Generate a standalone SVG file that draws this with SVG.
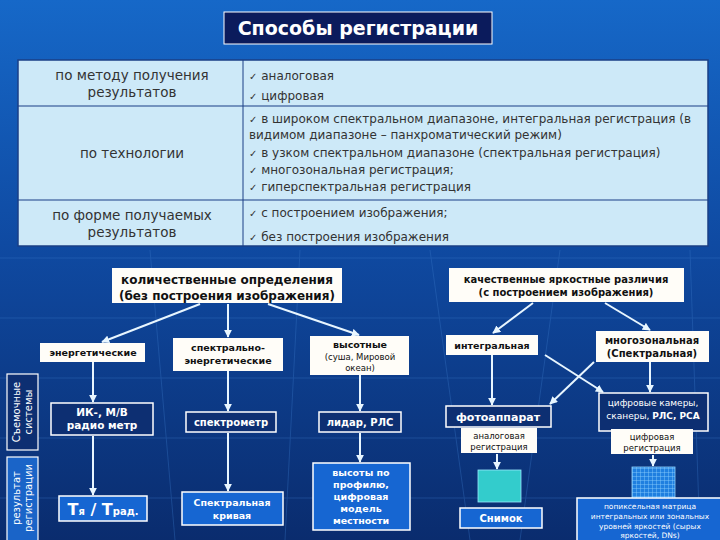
<svg xmlns="http://www.w3.org/2000/svg" width="720" height="540" viewBox="0 0 720 540">
<defs>
<linearGradient id="bg" x1="0" y1="0" x2="0" y2="1">
<stop offset="0" stop-color="#1668c8"/>
<stop offset="0.45" stop-color="#0f4aa2"/>
<stop offset="1" stop-color="#0a2c6e"/>
</linearGradient>
<pattern id="grid" width="4" height="4" patternUnits="userSpaceOnUse">
<rect width="4" height="4" fill="#1f7fe0"/>
<path d="M0 0H4M0 0V4" stroke="#8fd3ff" stroke-width="0.8" fill="none"/>
</pattern>
<marker id="ah" viewBox="0 0 10 10" refX="9" refY="5" markerWidth="4" markerHeight="4" orient="auto">
<path d="M0 0L10 5L0 10z" fill="#e8f6ff"/>
</marker>
<style>
text{font-family:"DejaVu Sans","Liberation Sans",sans-serif}
.tbl{font-size:12px;fill:#333}
.lc{font-size:13.5px}
.ck{font-size:10px;fill:#333}
.wb{fill:#fffdf8}
.dk{fill:#0d2f72;stroke:#ffffff;stroke-width:1.5}
.bl{fill:#1666d2;stroke:#ffffff;stroke-width:1.5}
.bt{font-weight:bold;fill:#111;text-anchor:middle}
.wt{font-weight:bold;fill:#fff;text-anchor:middle}
.c{text-anchor:middle}
.con line,.con path{stroke:#e8f6ff;stroke-width:2;fill:none}
.faint{stroke:#3a78c8;stroke-width:1;opacity:0.35;fill:none}
</style>
</defs>
<rect width="720" height="540" fill="url(#bg)"/>
<g class="faint">
<path d="M0 258H720M0 318H720M0 378H720M0 438H720M0 498H720"/>
<path d="M150 250L175 540M300 250L285 540M430 250L470 540M560 250L520 540M690 250L700 540"/>
</g>

<g id="title">
<rect x="224" y="12" width="268" height="32" fill="#0b1b5c" stroke="#ffffff" stroke-width="1"/>
<text x="358" y="35" class="c" font-size="19" font-weight="bold" fill="#fff">Способы регистрации</text>
</g>

<g id="table">
<rect x="18" y="60" width="690" height="186" fill="#cde9f8" stroke="#1a3f86" stroke-width="1.5"/>
<line x1="243" y1="60" x2="243" y2="246" stroke="#1a3f86" stroke-width="1"/>
<line x1="18" y1="106" x2="708" y2="106" stroke="#1a3f86" stroke-width="1.2"/>
<line x1="18" y1="200" x2="708" y2="200" stroke="#1a3f86" stroke-width="1.2"/>
<text class="tbl lc c" x="132" y="80">по методу получения</text>
<text class="tbl lc c" x="132" y="97">результатов</text>
<text class="tbl lc c" x="132" y="158">по технологии</text>
<text class="tbl lc c" x="132" y="220">по форме получаемых</text>
<text class="tbl lc c" x="132" y="237">результатов</text>
<text class="tbl" x="249" y="80"><tspan class="ck">✓</tspan> аналоговая</text>
<text class="tbl" x="249" y="100"><tspan class="ck">✓</tspan> цифровая</text>
<text class="tbl" x="249" y="123"><tspan class="ck">✓</tspan> в широком спектральном диапазоне, интегральная регистрация (в</text>
<text class="tbl" x="249" y="139">видимом диапазоне – панхроматический режим)</text>
<text class="tbl" x="249" y="157"><tspan class="ck">✓</tspan> в узком спектральном диапазоне (спектральная регистрация)</text>
<text class="tbl" x="249" y="174"><tspan class="ck">✓</tspan> многозональная регистрация;</text>
<text class="tbl" x="249" y="191"><tspan class="ck">✓</tspan> гиперспектральная регистрация</text>
<text class="tbl" x="249" y="217"><tspan class="ck">✓</tspan> с построением изображения;</text>
<text class="tbl" x="249" y="241"><tspan class="ck">✓</tspan> без построения изображения</text>
</g>

<g id="side-systems">
<rect x="7" y="374" width="31" height="76" fill="#0d2f72" stroke="#fff" stroke-width="1.2"/>
<text transform="translate(20,412) rotate(-90)" class="c" font-size="10" fill="#fff">Съемочные</text>
<text transform="translate(32,412) rotate(-90)" class="c" font-size="10" fill="#fff">системы</text>
</g>
<g id="side-result">
<rect x="7" y="457" width="31" height="86" fill="#1a64c8" stroke="#fff" stroke-width="1.2"/>
<text transform="translate(20,498) rotate(-90)" class="c" font-size="10" fill="#fff">результат</text>
<text transform="translate(32,498) rotate(-90)" class="c" font-size="10" fill="#fff">регистрации</text>
</g>

<g class="con" id="connectors">
<line x1="200" y1="304" x2="102" y2="342" marker-end="url(#ah)"/>
<line x1="228" y1="304" x2="228" y2="337" marker-end="url(#ah)"/>
<line x1="268" y1="304" x2="359" y2="335" marker-end="url(#ah)"/>
<line x1="533" y1="303" x2="493" y2="333" marker-end="url(#ah)"/>
<line x1="605" y1="303" x2="650" y2="330" marker-end="url(#ah)"/>
<line x1="93" y1="362" x2="93" y2="402" marker-end="url(#ah)"/>
<line x1="93" y1="436" x2="93" y2="495" marker-end="url(#ah)"/>
<line x1="228" y1="371" x2="228" y2="411" marker-end="url(#ah)"/>
<line x1="228" y1="433" x2="228" y2="491" marker-end="url(#ah)"/>
<line x1="360" y1="375" x2="360" y2="411" marker-end="url(#ah)"/>
<line x1="360" y1="433" x2="360" y2="462" marker-end="url(#ah)"/>
<line x1="492" y1="355" x2="492" y2="405" marker-end="url(#ah)"/>
<line x1="545" y1="355" x2="603" y2="392" marker-end="url(#ah)"/>
<line x1="594" y1="362" x2="550" y2="404" marker-end="url(#ah)"/>
<line x1="650" y1="362" x2="650" y2="392" marker-end="url(#ah)"/>
<line x1="497" y1="454" x2="497" y2="469" marker-end="url(#ah)"/>
<line x1="653" y1="455" x2="653" y2="466" marker-end="url(#ah)"/>
</g>

<g id="quant">
<rect x="112" y="268" width="230" height="35" class="wb"/>
<text class="bt" x="227" y="284" font-size="12">количественные определения</text>
<text class="bt" x="227" y="300" font-size="12">(без построения изображения)</text>
</g>
<g id="qual">
<rect x="449" y="268" width="235" height="34" class="wb"/>
<text class="bt" x="566" y="283" font-size="10">качественные яркостные различия</text>
<text class="bt" x="566" y="296" font-size="10">(с построением изображения)</text>
</g>
<g id="energ">
<rect x="40" y="343" width="105" height="19" class="wb"/>
<text class="bt" x="93" y="356" font-size="9.5">энергетические</text>
</g>
<g id="spen">
<rect x="173" y="338" width="110" height="33" class="wb"/>
<text class="bt" x="228" y="351" font-size="9.5">спектрально-</text>
<text class="bt" x="228" y="364" font-size="9.5">энергетические</text>
</g>
<g id="vys">
<rect x="310" y="336" width="99" height="39" class="wb"/>
<text class="bt" x="360" y="348" font-size="9.5">высотные</text>
<text class="c" x="360" y="360" font-size="8.5" fill="#111">(суша, Мировой</text>
<text class="c" x="360" y="371" font-size="8.5" fill="#111">океан)</text>
</g>
<g id="integ">
<rect x="446" y="335" width="92" height="20" class="wb"/>
<text class="bt" x="492" y="349" font-size="9.5">интегральная</text>
</g>
<g id="multi">
<rect x="596" y="331" width="113" height="31" class="wb"/>
<text class="bt" x="652" y="344" font-size="10">многозональная</text>
<text class="bt" x="652" y="357" font-size="10">(Спектральная)</text>
</g>

<g id="ik">
<rect x="51" y="403" width="102" height="32" class="dk"/>
<text class="wt" x="102" y="416" font-size="10.5">ИК-, М/В</text>
<text class="wt" x="102" y="429" font-size="10.5">радио метр</text>
</g>
<g id="spectrometer">
<rect x="186" y="412" width="90" height="20" class="dk"/>
<text class="wt" x="231" y="426" font-size="10">спектрометр</text>
</g>
<g id="lidar">
<rect x="319" y="412" width="82" height="20" class="dk"/>
<text class="wt" x="360" y="426" font-size="10">лидар, РЛС</text>
</g>
<g id="photo">
<rect x="446" y="406" width="105" height="21" class="dk"/>
<text class="wt" x="498" y="421" font-size="11">фотоаппарат</text>
</g>
<g id="digicam">
<rect x="599" y="393" width="109" height="38" class="dk"/>
<text class="c" x="653" y="406" font-size="9" fill="#fff">цифровые камеры,</text>
<text class="c" x="653" y="419" font-size="9" fill="#fff">сканеры, <tspan font-weight="bold">РЛС, РСА</tspan></text>
</g>
<g id="analog-label">
<rect x="461" y="428" width="76" height="25" class="wb"/>
<text class="c" x="499" y="439" font-size="8.5" fill="#111">аналоговая</text>
<text class="c" x="499" y="450" font-size="8.5" fill="#111">регистрация</text>
</g>
<g id="digital-label">
<rect x="611" y="429" width="82" height="25" class="wb"/>
<text class="c" x="652" y="440" font-size="8.5" fill="#111">цифровая</text>
<text class="c" x="652" y="451" font-size="8.5" fill="#111">регистрация</text>
</g>

<g id="temp">
<rect x="59" y="496" width="88" height="25" class="bl"/>
<text class="wt" x="103" y="515" font-size="16">Т<tspan font-size="10">я</tspan> / Т<tspan font-size="10">рад.</tspan></text>
</g>
<g id="curve">
<rect x="182" y="492" width="101" height="33" class="bl"/>
<text class="wt" x="232" y="506" font-size="9.5">Спектральная</text>
<text class="wt" x="232" y="519" font-size="9.5">кривая</text>
</g>
<g id="heights">
<rect x="313" y="463" width="97" height="67" class="bl"/>
<text class="wt" x="361" y="476" font-size="9.5">высоты по</text>
<text class="wt" x="361" y="488" font-size="9.5">профилю,</text>
<text class="wt" x="361" y="500" font-size="9.5">цифровая</text>
<text class="wt" x="361" y="512" font-size="9.5">модель</text>
<text class="wt" x="361" y="524" font-size="9.5">местности</text>
</g>
<g id="teal">
<rect x="478" y="470" width="43" height="32" fill="#33cccc" stroke="#9ae8ff" stroke-width="0.8"/>
</g>
<g id="snapshot">
<rect x="460" y="508" width="82" height="20" class="bl"/>
<text class="wt" x="501" y="522" font-size="10">Снимок</text>
</g>
<g id="gridsq">
<rect x="632" y="467" width="43" height="33" fill="url(#grid)" stroke="#8fd3ff" stroke-width="0.8"/>
</g>
<g id="matrix">
<rect x="577" y="498" width="145" height="46" class="bl"/>
<text class="c" x="650" y="509" font-size="7.5" fill="#fff">попиксельная матрица</text>
<text class="c" x="650" y="519" font-size="7.5" fill="#fff">интегральных или зональных</text>
<text class="c" x="650" y="529" font-size="7.5" fill="#fff">уровней яркостей (сырых</text>
<text class="c" x="650" y="538" font-size="7.5" fill="#fff">яркостей, DNs)</text>
</g>
</svg>
